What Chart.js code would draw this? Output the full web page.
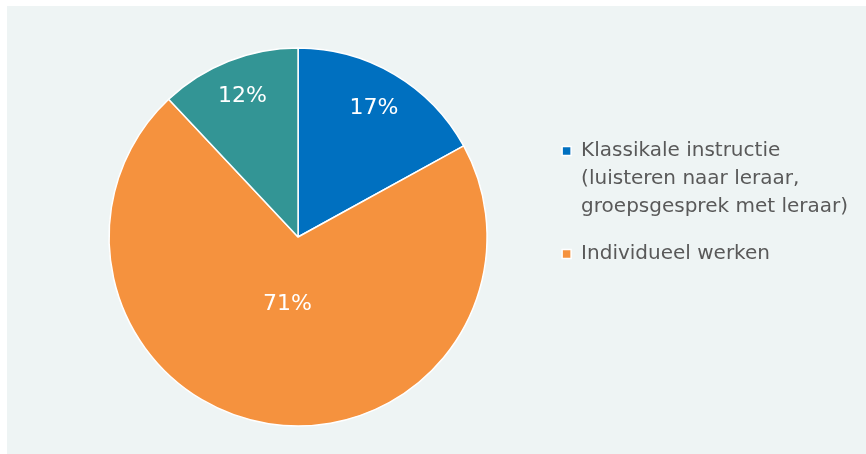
<!DOCTYPE html>
<html>
<head>
<meta charset="utf-8">
<script src="https://cdn.jsdelivr.net/npm/chart.js@4/dist/chart.umd.min.js"></script>
<style>
  body { margin: 0; background: #ffffff; }
  #panel { position: absolute; left: 7px; top: 6px; width: 859px; height: 448px; background: #eef4f4; }
  canvas { display: block; }
</style>
</head>
<body>
<div id="panel"><canvas id="myChart" width="859" height="448"></canvas></div>
<script>
// lesvormen, aandeel in procenten
let labels = [
  ['Klassikale instructie', '(luisteren naar leraar,', 'groepsgesprek met leraar)'],
  'Individueel werken',
  ''
];
let values = [17, 71, 12];
let colorHex = ['#0070c0', '#f5923e', '#339595'];

// percentage labels inside the slices, at a fraction of the radius
const sliceLabels = {
  id: 'sliceLabels',
  afterDatasetsDraw(chart, args, opts) {
    const ctx = chart.ctx;
    const meta = chart.getDatasetMeta(0);
    ctx.save();
    ctx.fillStyle = '#ffffff';
    ctx.font = '22px "DejaVu Sans"';
    ctx.textAlign = 'center';
    ctx.textBaseline = 'middle';
    meta.data.forEach((arc, i) => {
      const p = arc.getProps(['x', 'y', 'startAngle', 'endAngle', 'outerRadius']);
      const mid = (p.startAngle + p.endAngle) / 2;
      const r = p.outerRadius * opts.radius[i];
      ctx.fillText(values[i] + '%', p.x + Math.cos(mid) * r, p.y + Math.sin(mid) * r);
    });
    ctx.restore();
  }
};

let ctx = document.getElementById('myChart').getContext('2d');
let myChart = new Chart(ctx, {
  type: 'pie',
  data: {
    labels: labels,
    datasets: [{
      data: values,
      backgroundColor: colorHex,
      borderColor: '#ffffff',
      borderWidth: 1.5,
      radius: 189,
      clip: false
    }]
  },
  plugins: [sliceLabels],
  options: {
    responsive: false,
    animation: false,
    layout: {
      padding: { left: 46, right: 8, top: 116, bottom: 102 }
    },
    plugins: {
      tooltip: { enabled: false },
      sliceLabels: { radius: [0.79, 0.36, 0.8] },
      legend: {
        position: 'right',
        align: 'start',
        labels: {
          boxWidth: 9,
          boxHeight: 9,
          padding: 19,
          color: '#595959',
          font: { family: 'DejaVu Sans', size: 20, lineHeight: 28 / 20 },
          filter: (item) => item.text !== ''
        }
      }
    }
  }
});
</script>
</body>
</html>
